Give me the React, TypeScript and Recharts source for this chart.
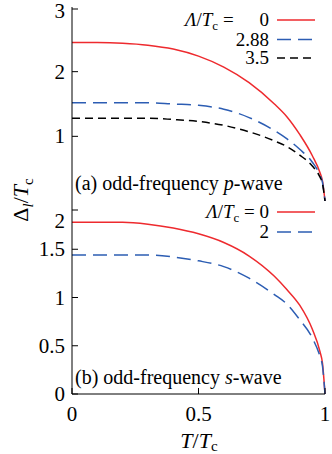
import { LineChart, Line, XAxis, YAxis } from 'recharts'

const temps = [0, 0.1, 0.2, 0.3, 0.4, 0.5, 0.6, 0.7, 0.8, 0.85, 0.9, 0.95, 0.98, 0.99, 1]
// (a) odd-frequency p-wave
const pWave0 = [2.45, 2.45, 2.44, 2.41, 2.35, 2.24, 2.07, 1.83, 1.5, 1.3, 1.03, 0.7, 0.44, 0.31, 0]
const pWave288 = [1.52, 1.52, 1.52, 1.52, 1.5, 1.48, 1.42, 1.29, 1.09, 0.96, 0.8, 0.6, 0.4, 0.29, 0]
const pWave35 = [1.28, 1.28, 1.28, 1.28, 1.26, 1.23, 1.17, 1.07, 0.93, 0.84, 0.71, 0.54, 0.37, 0.27, 0]
// (b) odd-frequency s-wave
const sWave0 = [1.78, 1.78, 1.78, 1.76, 1.72, 1.66, 1.57, 1.43, 1.22, 1.08, 0.92, 0.67, 0.44, 0.32, 0]
const sWave2 = [1.44, 1.44, 1.44, 1.44, 1.42, 1.38, 1.32, 1.2, 1.03, 0.93, 0.77, 0.58, 0.39, 0.29, 0]

const xTicks = [0, 0.5, 1]
const topTicks = [0, 1, 2, 3]
const bottomTicks = [0, 0.5, 1, 1.5, 2]

const topData = temps.map((t, i) => ({ t, a: pWave0[i], b: pWave288[i], c: pWave35[i] }))
const bottomData = temps.map((t, i) => ({ t, a: sWave0[i], b: sWave2[i] }))

const RED = '#ee2a2e'
const BLUE = '#2c5db3'
const FONT = "'Liberation Serif', 'Times New Roman', serif"
const serif = { fontFamily: FONT }

const LeftTick = (props: any) => {
  const { x, y, payload, shiftFor } = props
  const dy = shiftFor?.[payload.value] ?? 0
  return (
    <g>
      <line x1={x + 7} x2={x + 13} y1={y} y2={y} stroke="#000" />
      <text x={x} y={y + dy} textAnchor="end" dominantBaseline="central" style={serif} fontSize={21} fill="#000">
        {payload.value}
      </text>
    </g>
  )
}

const RightTick = (props: any) => {
  const { x, y } = props
  return <line x1={x - 6} x2={x} y1={y} y2={y} stroke="#000" />
}

const BottomTick = (props: any) => {
  const { x, y, payload, showLabel } = props
  return (
    <g>
      <line x1={x} x2={x} y1={y - (showLabel ? 12 : 0)} y2={y - (showLabel ? 18 : 6)} stroke="#000" />
      {showLabel && (
        <text x={x} y={y} textAnchor="middle" dominantBaseline="hanging" style={serif} fontSize={21} fill="#000">
          {payload.value}
        </text>
      )}
    </g>
  )
}

const TopTick = (props: any) => {
  const { x, y } = props
  return <line x1={x} x2={x} y1={y} y2={y + 6} stroke="#000" />
}

const axisLine = { stroke: '#000', strokeWidth: 1 }

export default function App() {
  return (
    <div style={{ position: 'absolute', left: 0, top: 0, width: 332, height: 454, background: '#fff', ...serif }}>
      <div style={{ position: 'absolute', left: 0, top: 0 }}>
        <LineChart width={332} height={202} data={topData} margin={{ top: 7, right: 7, bottom: 1, left: 0 }}>
          <XAxis xAxisId="bottom" dataKey="t" type="number" domain={[0, 1]} ticks={xTicks} height={0}
            axisLine={axisLine} tickLine={false} tickSize={0} tickMargin={0} tick={<BottomTick showLabel={false} />} />
          <XAxis xAxisId="top" orientation="top" type="number" domain={[0, 1]} ticks={xTicks} height={0}
            axisLine={axisLine} tickLine={false} tickSize={0} tickMargin={0} tick={<TopTick />} />
          <YAxis yAxisId="left" type="number" domain={[0, 3]} ticks={topTicks} width={72}
            axisLine={axisLine} tickLine={false} tickSize={0} tickMargin={7} tick={<LeftTick shiftFor={{ 0: -10, 3: 2 }} />} />
          <YAxis yAxisId="right" orientation="right" type="number" domain={[0, 3]} ticks={topTicks} width={0}
            axisLine={axisLine} tickLine={false} tickSize={0} tickMargin={0} tick={<RightTick />} />
          <Line xAxisId="bottom" yAxisId="left" type="monotone" dataKey="a" stroke={RED} strokeWidth={1.5} dot={false} isAnimationActive={false} />
          <Line xAxisId="bottom" yAxisId="left" type="monotone" dataKey="b" stroke={BLUE} strokeWidth={1.5} strokeDasharray="14 7" dot={false} isAnimationActive={false} />
          <Line xAxisId="bottom" yAxisId="left" type="monotone" dataKey="c" stroke="#000" strokeWidth={1.5} strokeDasharray="8 5" dot={false} isAnimationActive={false} />
        </LineChart>
      </div>
      <div style={{ position: 'absolute', left: 0, top: 201 }}>
        <LineChart width={332} height={253} data={bottomData} margin={{ top: 0, right: 7, bottom: 0, left: 0 }}>
          <XAxis xAxisId="bottom" dataKey="t" type="number" domain={[0, 1]} ticks={xTicks} height={60}
            axisLine={axisLine} tickLine={false} tickSize={0} tickMargin={12} tick={<BottomTick showLabel />} />
          <XAxis xAxisId="top" orientation="top" type="number" domain={[0, 1]} ticks={xTicks} height={0}
            axisLine={axisLine} tickLine={false} tickSize={0} tickMargin={0} tick={<TopTick />} />
          <YAxis yAxisId="left" type="number" domain={[0, 2]} ticks={bottomTicks} width={72}
            axisLine={axisLine} tickLine={false} tickSize={0} tickMargin={7} tick={<LeftTick shiftFor={{ 2: 11 }} />} />
          <YAxis yAxisId="right" orientation="right" type="number" domain={[0, 2]} ticks={bottomTicks} width={0}
            axisLine={axisLine} tickLine={false} tickSize={0} tickMargin={0} tick={<RightTick />} />
          <Line xAxisId="bottom" yAxisId="left" type="monotone" dataKey="a" stroke={RED} strokeWidth={1.5} dot={false} isAnimationActive={false} />
          <Line xAxisId="bottom" yAxisId="left" type="monotone" dataKey="b" stroke={BLUE} strokeWidth={1.5} strokeDasharray="14 7" dot={false} isAnimationActive={false} />
        </LineChart>
      </div>
      <svg width={332} height={454} style={{ position: 'absolute', left: 0, top: 0, pointerEvents: 'none', ...serif }} fill="#000">
        {/* legend (a) */}
        <text x={185} y={26} fontSize={19} style={serif}>
          <tspan fontStyle="italic">Λ</tspan>/<tspan fontStyle="italic">T</tspan>
          <tspan fontSize={13} dy={4}>c</tspan>
          <tspan dy={-4}> =</tspan>
        </text>
        <text x={269} y={26} fontSize={19} textAnchor="end" style={serif}>0</text>
        <line x1={277} x2={315} y1={20} y2={20} stroke={RED} strokeWidth={1.5} />
        <text x={269} y={45.5} fontSize={19} textAnchor="end" style={serif}>2.88</text>
        <line x1={277} x2={315} y1={39.5} y2={39.5} stroke={BLUE} strokeWidth={1.5} strokeDasharray="14 7" />
        <text x={269} y={64} fontSize={19} textAnchor="end" style={serif}>3.5</text>
        <line x1={277} x2={315} y1={58} y2={58} stroke="#000" strokeWidth={1.5} strokeDasharray="8 5" />
        <text x={75} y={190} fontSize={20} style={serif}>
          (a) odd-frequency <tspan fontStyle="italic">p</tspan>-wave
        </text>
        {/* legend (b) */}
        <text x={269} y={218} fontSize={19} textAnchor="end" style={serif}>
          <tspan fontStyle="italic">Λ</tspan>/<tspan fontStyle="italic">T</tspan>
          <tspan fontSize={13} dy={4}>c</tspan>
          <tspan dy={-4}> = 0</tspan>
        </text>
        <line x1={277} x2={315} y1={212} y2={212} stroke={RED} strokeWidth={1.5} />
        <text x={269} y={238} fontSize={19} textAnchor="end" style={serif}>2</text>
        <line x1={277} x2={315} y1={232} y2={232} stroke={BLUE} strokeWidth={1.5} strokeDasharray="14 7" />
        <text x={75} y={384} fontSize={20} style={serif}>
          (b) odd-frequency <tspan fontStyle="italic">s</tspan>-wave
        </text>
        {/* axis titles */}
        <text x={199} y={448} fontSize={22} textAnchor="middle" style={serif}>
          <tspan fontStyle="italic">T</tspan>/<tspan fontStyle="italic">T</tspan>
          <tspan fontSize={15} dy={3}>c</tspan>
        </text>
        <text transform="translate(28 200) rotate(-90)" fontSize={22} textAnchor="middle" style={serif}>
          Δ<tspan fontSize={15} dy={5} fontStyle="italic">l</tspan>
          <tspan dy={-5}>/</tspan><tspan fontStyle="italic">T</tspan>
          <tspan fontSize={15} dy={5}>c</tspan>
        </text>
      </svg>
    </div>
  )
}
